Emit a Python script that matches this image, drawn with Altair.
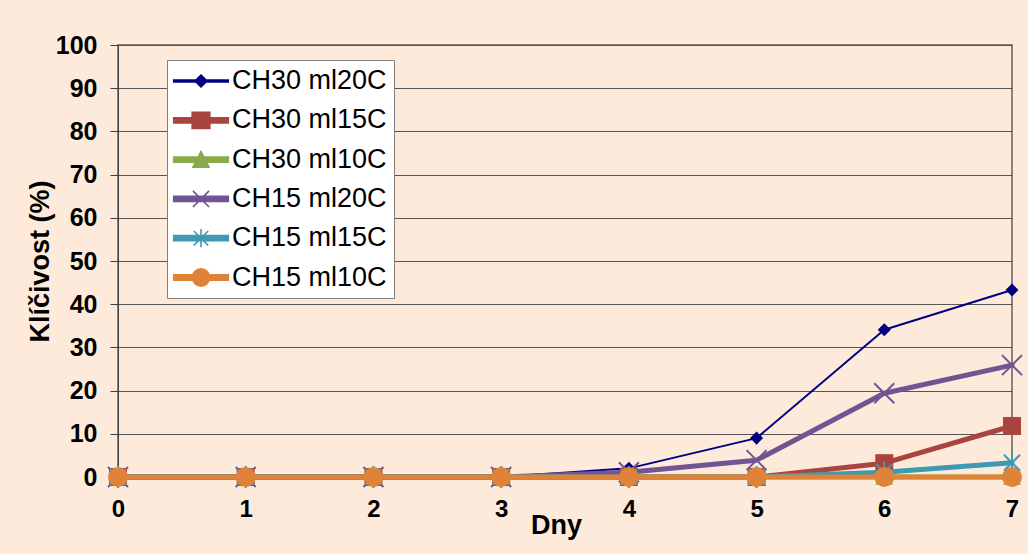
import altair as alt
import pandas as pd

days = [0, 1, 2, 3, 4, 5, 6, 7]
series_names = ["CH30 ml20C", "CH30 ml15C", "CH30 ml10C", "CH15 ml20C", "CH15 ml15C", "CH15 ml10C"]
ch30_ml20c = [0, 0, 0, 0, 2.0, 9.0, 34.1, 43.3]
ch30_ml15c = [0, 0, 0, 0, 0, 0, 3.2, 11.8]
ch30_ml10c = [0, 0, 0, 0, 0, 0, 0, 0]
ch15_ml20c = [0, 0, 0, 0, 1.1, 3.9, 19.4, 25.9]
ch15_ml15c = [0, 0, 0, 0, 0, 0, 1.1, 3.3]
ch15_ml10c = [0, 0, 0, 0, 0, 0, 0, 0]
colors = ["#000080", "#A9443F", "#8BAA4A", "#705493", "#3E9AB3", "#DE8338"]
y_ticks = [0, 10, 20, 30, 40, 50, 60, 70, 80, 90, 100]

values = [ch30_ml20c, ch30_ml15c, ch30_ml10c, ch15_ml20c, ch15_ml15c, ch15_ml10c]
rows = []
for name, vals in zip(series_names, values):
    for d, v in zip(days, vals):
        rows.append({"Dny": d, "val": v, "series": name})
df = pd.DataFrame(rows)

FONT = "Liberation Sans"

# styles per series: line width, marker shape, marker size, filled
line_w = [2, 5, 5, 5, 5, 5]
shapes = ["diamond", "square", "triangle-up",
          "M-1,-1L1,1M-1,1L1,-1",
          "M-1,-1L1,1M-1,1L1,-1M0,-1.35V1.35",
          "circle"]
sizes = [170, 324, 324, 400, 260, 400]
filled = [True, True, True, False, False, True]

# legend symbol paths (unit = 13 px): line segment (two halves) + marker
thin = "M-2.1,-0.08H-0.3V0.08H-2.1Z M0.3,-0.08H2.1V0.08H0.3Z "
thick = "M-2.1,-0.2H-0.3V0.2H-2.1Z M0.3,-0.2H2.1V0.2H0.3Z "
leg_shapes = [
    thin + "M0,-0.46L0.46,0L0,0.46L-0.46,0Z",
    thick + "M-0.68,-0.62H0.68V0.62H-0.68Z",
    thick + "M0,-0.62L0.62,0.58H-0.62Z",
    thick + "M-0.3,-0.2H0.3V0.2H-0.3Z M-0.62,-0.62L0.62,0.62M-0.62,0.62L0.62,-0.62",
    thick + "M-0.3,-0.2H0.3V0.2H-0.3Z M-0.55,-0.55L0.55,0.55M-0.55,0.55L0.55,-0.55M0,-0.7V0.7",
    thick + "M-0.66,0A0.66,0.66 0 1,1 0.66,0A0.66,0.66 0 1,1 -0.66,0Z",
]

color_scale = alt.Scale(domain=series_names, range=colors)
shape_scale = alt.Scale(domain=series_names, range=leg_shapes)

legend = alt.Legend(
    title=None, orient="none", legendX=49, legendY=15,
    fillColor="white", strokeColor="#808080", padding=7,
    labelFont=FONT, labelFontSize=27, labelColor="black",
    symbolSize=676, rowPadding=12.3, labelOffset=17,
    symbolOffset=13, symbolStrokeWidth=1.6, symbolOpacity=1,
)

x_enc = alt.X("Dny:Q", scale=alt.Scale(domain=[0, 7], nice=False, zero=False),
              axis=alt.Axis(values=days, format="d", grid=False, ticks=False,
                            domainColor="#808080", labelFlush=False,
                            labelFont=FONT, labelFontSize=24, labelFontWeight="bold",
                            labelColor="black", labelPadding=20,
                            title="Dny", titleFont=FONT, titleFontSize=27,
                            titleFontWeight="bold", titleColor="black",
                            titleX=438, titleY=56, titleBaseline="alphabetic"))
y_enc = alt.Y("val:Q", scale=alt.Scale(domain=[0, 100], nice=False),
              axis=alt.Axis(values=y_ticks, grid=True, gridColor="#555555",
                            gridWidth=1, domainColor="#404040", tickColor="#404040",
                            tickSize=8, labelFont=FONT, labelFontSize=25,
                            labelFontWeight="bold", labelColor="black", labelPadding=13,
                            labelFlush=False,
                            title="Klíčivost (%)", titleFont=FONT, titleFontSize=27,
                            titleFontWeight="bold", titleColor="black",
                            titleX=-70, titleY=216, titleAngle=-90,
                            titleAlign="center", titleBaseline="alphabetic"))

color_enc = alt.Color("series:N", scale=color_scale, legend=legend)

# legend-carrying layer (no data drawn)
leg_layer = alt.Chart(df).transform_filter("false").mark_point(filled=True, opacity=1).encode(
    x=x_enc, y=y_enc, color=color_enc,
    shape=alt.Shape("series:N", scale=shape_scale, legend=legend),
)

layers = [leg_layer]
for i, name in enumerate(series_names):
    base = alt.Chart(df).transform_filter(alt.datum.series == name)
    line = base.mark_line(strokeWidth=line_w[i], strokeCap="round", strokeJoin="round").encode(
        x=x_enc, y=y_enc, color=color_enc,
    )
    if filled[i]:
        pts = base.mark_point(shape=shapes[i], size=sizes[i], filled=True, opacity=1)
    else:
        pts = base.mark_point(shape=shapes[i], size=sizes[i], filled=False, opacity=1,
                              strokeWidth=2)
    pts = pts.encode(x=x_enc, y=y_enc, color=color_enc)
    layers += [line, pts]

chart = alt.layer(*layers).properties(
    width=894, height=432,
    background="#FDEADB",
    padding={"left": 118, "top": 45, "right": 16, "bottom": 77},
    autosize=alt.AutoSizeParams(type="none"),
).configure_view(stroke="#606060", strokeWidth=1.5)

chart.save("out.html", embed_options={"renderer": "svg", "actions": False})
